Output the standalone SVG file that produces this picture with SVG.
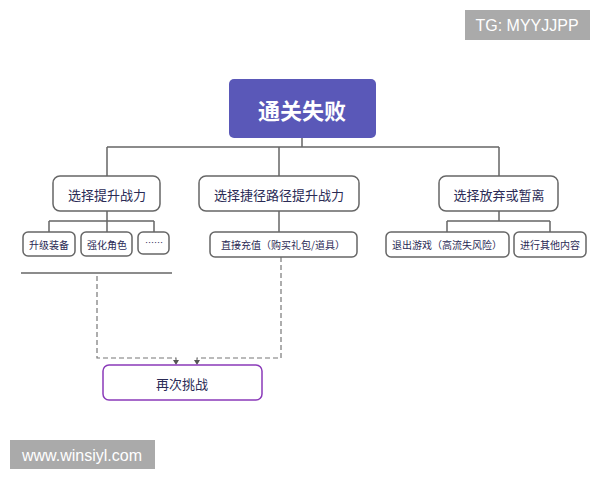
<svg xmlns="http://www.w3.org/2000/svg" width="600" height="480" viewBox="0 0 600 480">
<style>
text{font-family:"Noto Sans CJK SC","Liberation Sans",sans-serif;text-anchor:middle;dominant-baseline:central;fill:#2a2a55}
.n{fill:#fff;stroke:#666;stroke-width:1.5}
.l{fill:none;stroke:#666;stroke-width:1.5}
.d{fill:none;stroke:#777;stroke-width:1.2;stroke-dasharray:5,3}
</style>
<defs><marker id="a" markerWidth="6" markerHeight="6" refX="3" refY="5" orient="auto" markerUnits="userSpaceOnUse"><path d="M0,0L3,5L6,0Z" fill="#555" transform="rotate(-90 3 3)"/></marker></defs>
<rect width="600" height="480" fill="#fff"/>
<g id="connectors">
<path class="l" d="M302,138V147M107,147H499M107,147V176M279,147V176M499,147V176"/>
<path class="l" d="M107,211V221M49,221H154M49,221V232M107,221V232M154,221V232"/>
<path class="l" d="M279,211V232"/>
<path class="l" d="M499,211V221M447,221H550M447,221V232M550,221V232"/>
<path class="l" d="M21,273H172"/>
<path class="d" d="M97,276V358H176V364"/>
<path class="d" d="M281,257V358H197V364"/>
<path d="M173,360L176,365L179,360Z M194,360L197,365L200,360Z" fill="#555"/>
</g>
<g id="root"><rect x="229" y="79" width="147" height="59" rx="5" fill="#5a58b8"/><text x="302" y="109" font-size="22" font-weight="bold" style="fill:#fff">通关失败</text></g>
<g id="n1"><rect class="n" x="53" y="176" width="107" height="35" rx="7"/><text x="107" y="194" font-size="13">选择提升战力</text></g>
<g id="n2"><rect class="n" x="199" y="176" width="160" height="35" rx="7"/><text x="279" y="194" font-size="13">选择捷径路径提升战力</text></g>
<g id="n3"><rect class="n" x="439" y="176" width="119" height="35" rx="7"/><text x="499" y="194" font-size="13">选择放弃或暂离</text></g>
<g id="c1"><rect class="n" x="23" y="232" width="52" height="24" rx="5"/><text x="49" y="244" font-size="10">升级装备</text></g>
<g id="c2"><rect class="n" x="81" y="232" width="51" height="24" rx="5"/><text x="107" y="244" font-size="10">强化角色</text></g>
<g id="c3"><rect class="n" x="138" y="232" width="31" height="22" rx="5"/><text x="154" y="242" font-size="9">……</text></g>
<g id="c4"><rect class="n" x="210" y="232" width="147" height="25" rx="5"/><text x="283" y="244" font-size="10">直接充值（购买礼包/道具）</text></g>
<g id="c5"><rect class="n" x="386" y="232" width="123" height="25" rx="5"/><text x="447" y="244" font-size="10">退出游戏（高流失风险）</text></g>
<g id="c6"><rect class="n" x="514" y="232" width="72" height="25" rx="5"/><text x="550" y="244" font-size="10">进行其他内容</text></g>
<g id="retry"><rect x="103" y="365" width="159" height="35" rx="6" fill="#fff" stroke="#8a3ab9" stroke-width="1.5"/><text x="182" y="383" font-size="13">再次挑战</text></g>
<rect x="465" y="10" width="125" height="30" fill="#aaa"/><text x="527" y="25" font-size="16" style="fill:#fff;font-family:'Liberation Sans',sans-serif">TG: MYYJJPP</text>
<rect x="10" y="440" width="145" height="29" fill="#aaa"/><text x="82" y="455" font-size="16" style="fill:#fff;font-family:'Liberation Sans',sans-serif">www.winsiyl.com</text>
</svg>
